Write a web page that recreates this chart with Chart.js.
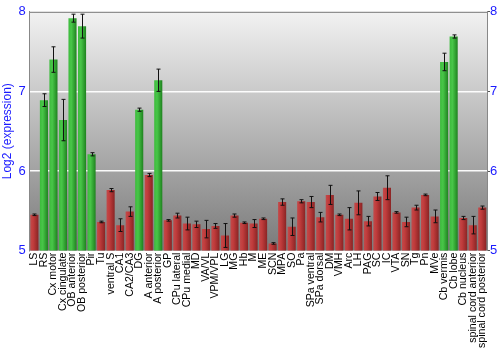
<!DOCTYPE html>
<html>
<head>
<meta charset="utf-8">
<script src="https://cdn.jsdelivr.net/npm/chart.js@4"></script>
<style>
  html, body { margin: 0; padding: 0; background: #fff; }
  #wrap { width: 500px; height: 350px; }
</style>
</head>
<body>
<div id="wrap"><canvas id="grafico"></canvas></div>
<script>
const regioes = ['LS', 'RS', 'Cx motor', 'Cx cingulate', 'OB anterior', 'OB posterior', 'Pir', 'Tu',
  'ventral S', 'CA1', 'CA2/CA3', 'DG', 'A anterior', 'A posterior', 'GP', 'CPu lateral', 'CPu medial',
  'MD', 'VA/VL', 'VPM/VPL', 'LG', 'MG', 'Hb', 'M', 'ME', 'SCN', 'MPA', 'SO', 'Pa', 'SPa ventral',
  'SPa dorsal', 'DM', 'VMH', 'Arc', 'LH', 'PAG', 'SC', 'IC', 'VTA', 'SN', 'Tg', 'Pn', 'MVe',
  'Cb vermis', 'Cb lobe', 'Cb nucleus', 'spinal cord anterior', 'spinal cord posterior'];

const expressao = [5.45, 6.89, 7.40, 6.64, 7.92, 7.82, 6.21, 5.36,
  5.76, 5.32, 5.49, 6.77, 5.95, 7.14, 5.38, 5.44, 5.34,
  5.33, 5.27, 5.31, 5.19, 5.44, 5.35, 5.34, 5.40, 5.09, 5.61, 5.30, 5.62, 5.61,
  5.42, 5.70, 5.45, 5.40, 5.60, 5.37, 5.68, 5.79, 5.48, 5.36, 5.54, 5.70, 5.43,
  7.37, 7.69, 5.41, 5.32, 5.54];

const erro = [0.01, 0.08, 0.16, 0.26, 0.05, 0.15, 0.02, 0.01,
  0.02, 0.08, 0.06, 0.02, 0.02, 0.14, 0.01, 0.03, 0.08,
  0.04, 0.11, 0.03, 0.15, 0.02, 0.01, 0.05, 0.01, 0.01, 0.04, 0.11, 0.02, 0.07,
  0.06, 0.12, 0.01, 0.14, 0.15, 0.06, 0.05, 0.15, 0.01, 0.06, 0.03, 0.01, 0.08,
  0.11, 0.02, 0.02, 0.11, 0.02];

const yTicks = [5, 6, 7, 8];
const limiar = 6;

const corAzul = '#1a1aff';
const fonte = 'Liberation Sans, Arial, sans-serif';
const larguraBarra = 0.85;

// fundo em degradê atrás das barras
const fundoPlugin = {
  id: 'fundo',
  beforeDraw(chart) {
    const { ctx, chartArea: a } = chart;
    const g = ctx.createLinearGradient(0, a.top, 0, a.bottom);
    g.addColorStop(0, '#f2f2f2');
    g.addColorStop(1, '#7a7a7a');
    ctx.save();
    ctx.fillStyle = g;
    ctx.fillRect(a.left, a.top, a.right - a.left, a.bottom - a.top);
    ctx.strokeStyle = '#777';
    ctx.lineWidth = 1;
    ctx.beginPath();
    ctx.moveTo(a.left, a.top + 0.5);
    ctx.lineTo(a.right, a.top + 0.5);
    ctx.stroke();
    ctx.restore();
  }
};

// barras de erro
const erroPlugin = {
  id: 'barrasErro',
  afterDatasetsDraw(chart) {
    const { ctx } = chart;
    const meta = chart.getDatasetMeta(0);
    const y = chart.scales.y;
    ctx.save();
    ctx.strokeStyle = '#111';
    ctx.lineWidth = 1;
    meta.data.forEach((bar, i) => {
      const x = Math.round(bar.x) + 0.5;
      const y1 = y.getPixelForValue(expressao[i] + erro[i]);
      const y2 = y.getPixelForValue(expressao[i] - erro[i]);
      ctx.beginPath();
      ctx.moveTo(x, y1);
      ctx.lineTo(x, y2);
      ctx.moveTo(x - 2, y1);
      ctx.lineTo(x + 2, y1);
      ctx.moveTo(x - 2, y2);
      ctx.lineTo(x + 2, y2);
      ctx.stroke();
    });
    ctx.restore();
  }
};

const corBarra = (context) => {
  const chart = context.chart;
  const i = context.dataIndex;
  const verde = expressao[i] > limiar;
  const xs = chart.scales && chart.scales.x;
  if (!xs || !chart.chartArea) return verde ? '#33a833' : '#b53535';
  const passo = (xs.right - xs.left) / regioes.length;
  const cx = xs.getPixelForValue(i);
  const x0 = cx - passo * larguraBarra / 2;
  const x1 = cx + passo * larguraBarra / 2;
  const g = chart.ctx.createLinearGradient(x0, 0, x1, 0);
  if (verde) {
    g.addColorStop(0, '#3dbb3d');
    g.addColorStop(0.35, '#48c648');
    g.addColorStop(1, '#1f821f');
  } else {
    g.addColorStop(0, '#c24a4a');
    g.addColorStop(0.35, '#c13c3c');
    g.addColorStop(1, '#8a2424');
  }
  return g;
};

const canvas = document.getElementById('grafico');
new Chart(canvas, {
  type: 'bar',
  data: {
    labels: regioes,
    datasets: [{
      data: expressao,
      backgroundColor: corBarra,
      borderWidth: 0,
      barPercentage: larguraBarra,
      categoryPercentage: 1
    }]
  },
  options: {
    responsive: true,
    maintainAspectRatio: false,
    animation: false,
    layout: { padding: { top: 2, right: 0, bottom: 0, left: 0 } },
    plugins: {
      legend: { display: false },
      tooltip: { enabled: false }
    },
    scales: {
      x: {
        grid: { display: false, drawTicks: false },
        border: { display: false },
        ticks: {
          color: '#000',
          font: { family: fonte, size: 10.6 },
          minRotation: 90,
          maxRotation: 90,
          autoSkip: false,
          padding: 2
        }
      },
      y: {
        position: 'left',
        min: 5,
        max: 8,
        afterBuildTicks: (axis) => { axis.ticks = yTicks.map(v => ({ value: v })); },
        grid: {
          color: (c) => (c.tick && (c.tick.value === 6 || c.tick.value === 7)) ? 'rgba(255,255,255,0.95)' : 'rgba(0,0,0,0)',
          lineWidth: 1.5,
          drawTicks: false
        },
        border: { display: true, color: '#888' },
        ticks: {
          color: corAzul,
          font: { family: fonte, size: 13 },
          padding: 4
        },
        title: {
          display: true,
          text: 'Log2 (expression)',
          color: corAzul,
          font: { family: fonte, size: 12 },
          padding: { top: 0, bottom: 0 }
        }
      },
      y2: {
        position: 'right',
        min: 5,
        max: 8,
        afterBuildTicks: (axis) => { axis.ticks = yTicks.map(v => ({ value: v })); },
        afterFit: (axis) => { axis.width = 13; },
        grid: { drawOnChartArea: false, color: '#555', tickLength: 3 },
        border: { display: true, color: '#888' },
        ticks: {
          color: corAzul,
          font: { family: fonte, size: 13 },
          padding: 0
        }
      }
    }
  },
  plugins: [fundoPlugin, erroPlugin]
});
</script>
</body>
</html>
